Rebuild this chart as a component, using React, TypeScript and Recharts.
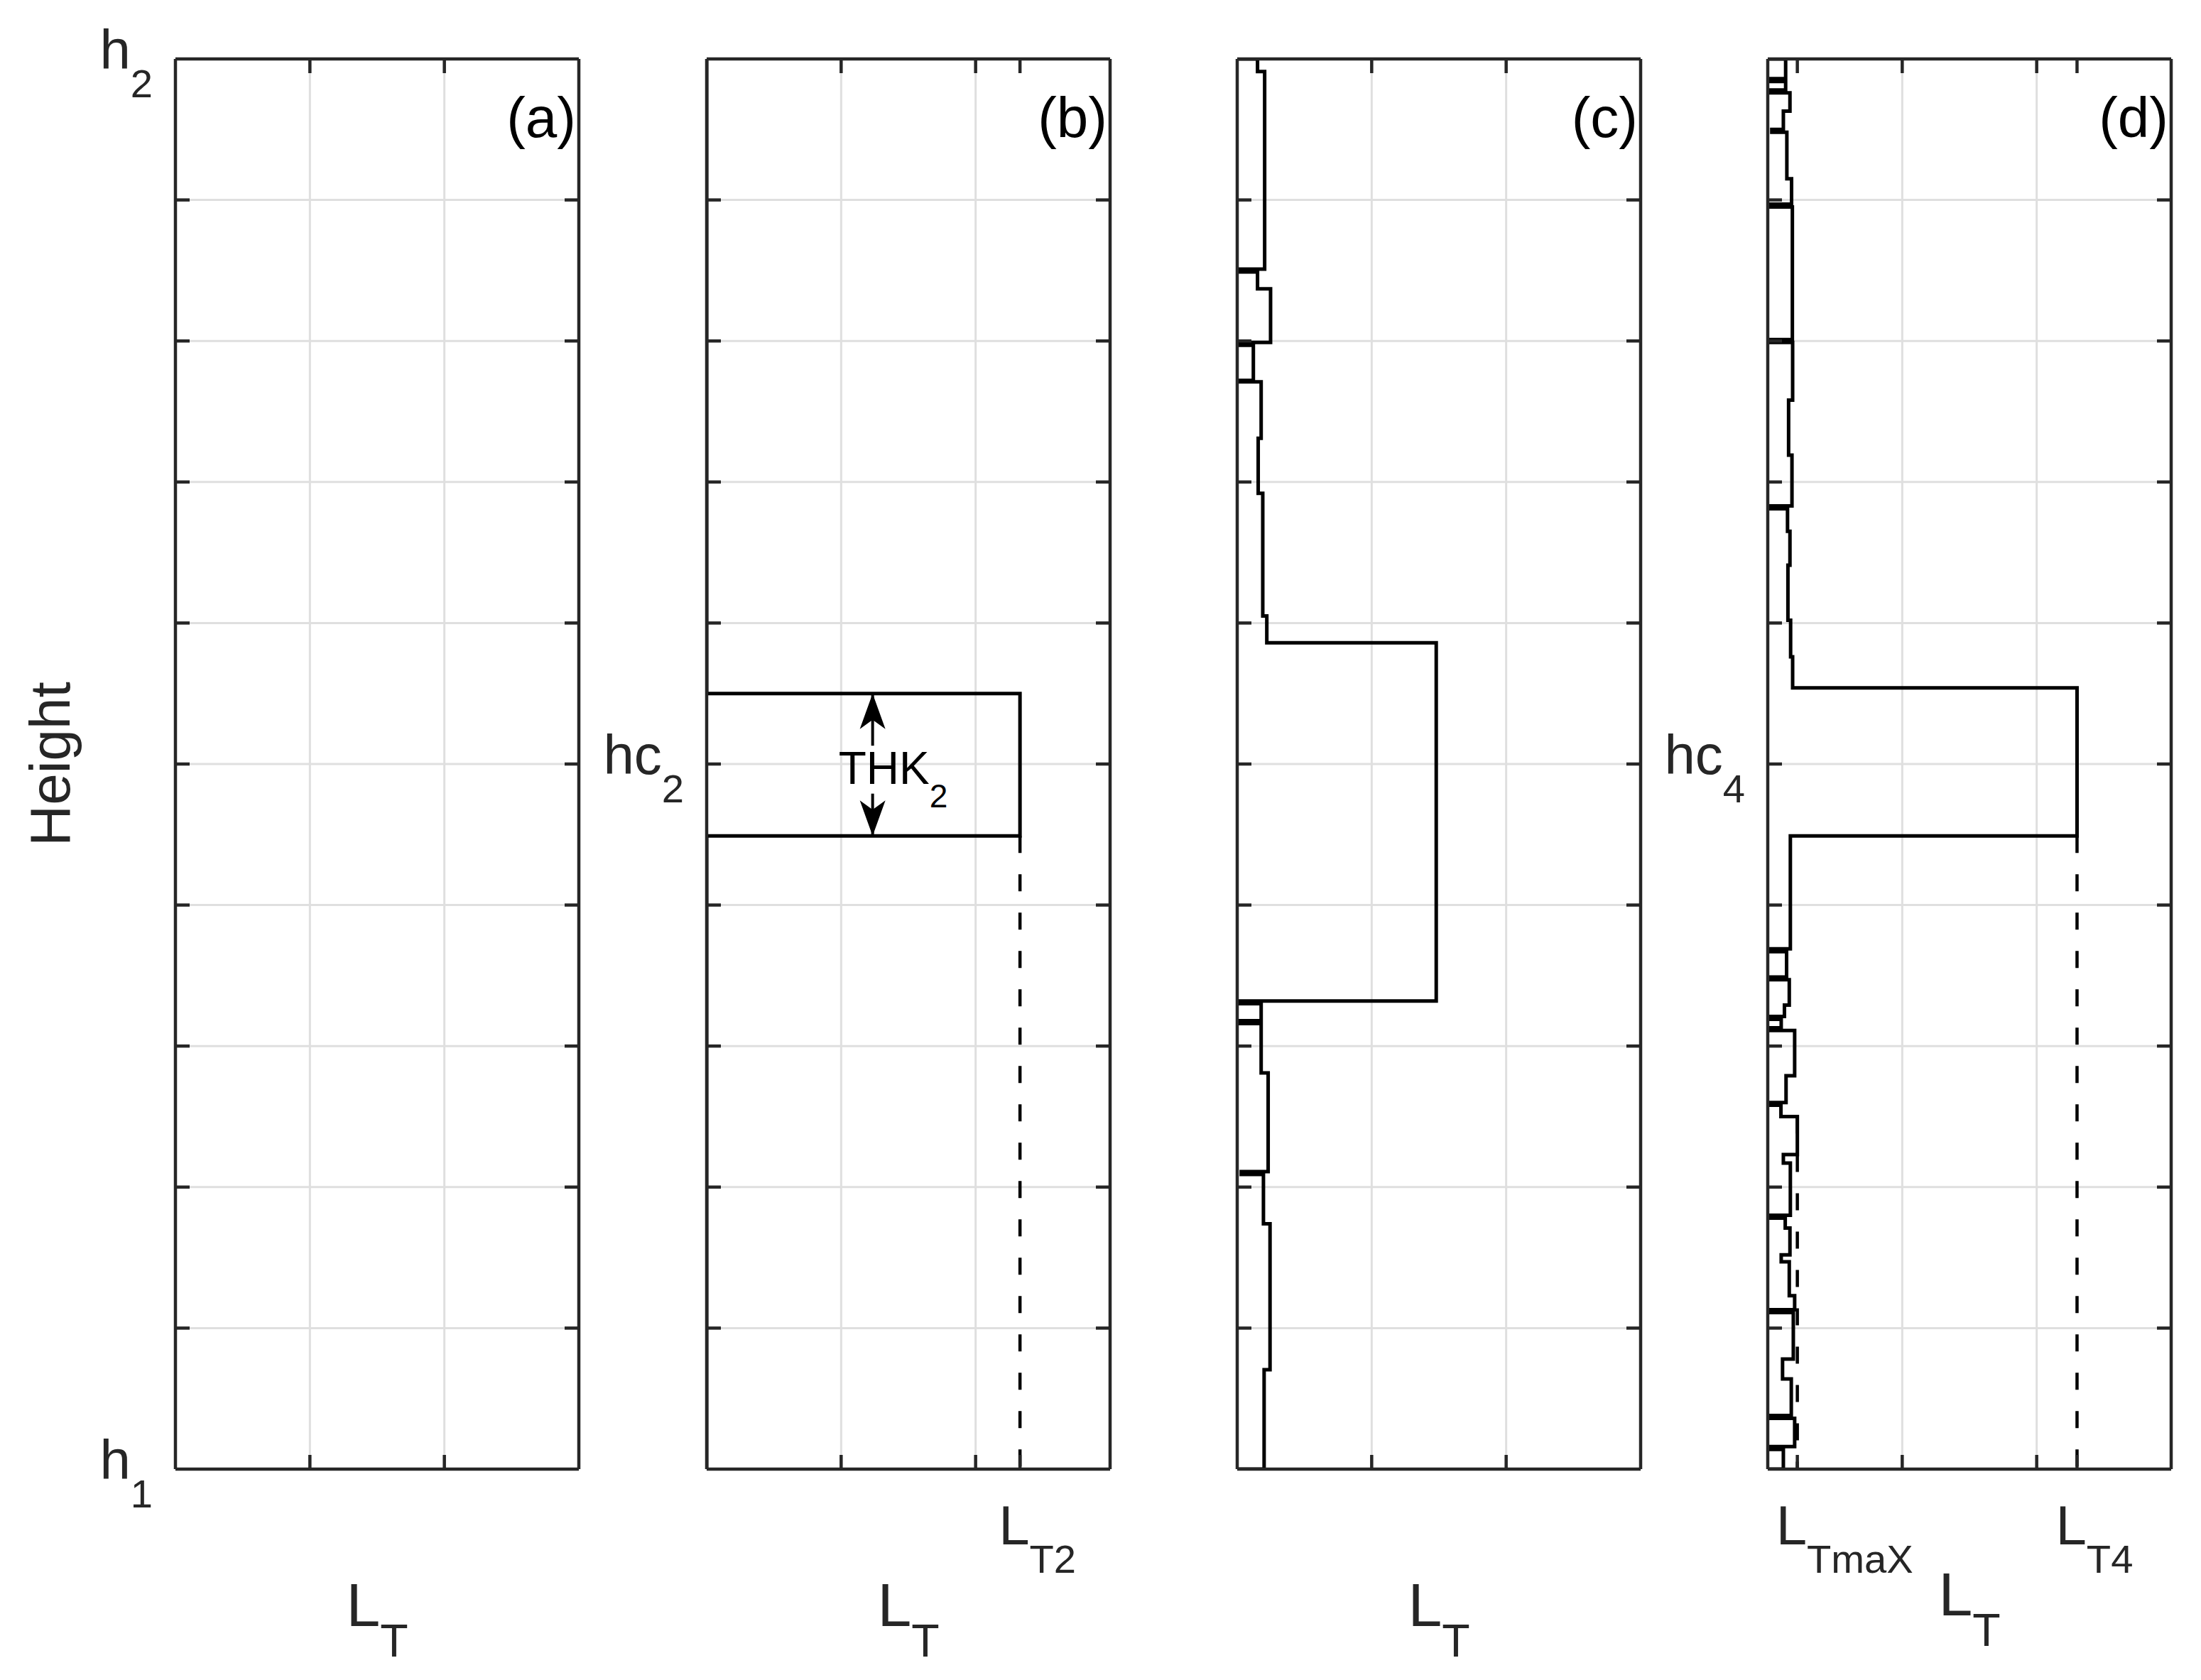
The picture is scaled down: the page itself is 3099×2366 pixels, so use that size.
import React from 'react';
import { ComposedChart, Line, Scatter, XAxis, YAxis, CartesianGrid } from 'recharts';

const FONT = '"Liberation Sans", Arial, Helvetica, sans-serif';
const INK = '#262626';
const GRID = '#dfdfdf';

const PAGE_W = 3099;
const PAGE_H = 2366;
const PLOT_TOP = 83;
const PLOT_H = 1986;
const PLOT_W = 568;
const TICK_LEN = 20;

// grid lines / tick marks
const yGridValues = [1, 2, 3, 4, 5, 6, 7, 8, 9];
const xGridValues = [1, 2];

// tick labels (value on axis, main text, subscript)
const aYLabels = [{ v: 0, main: 'h', sub: '1' }, { v: 10, main: 'h', sub: '2' }];
const bYLabels = [{ v: 5, main: 'hc', sub: '2' }];
const dYLabels = [{ v: 5, main: 'hc', sub: '4' }];
const bXLabels = [{ v: 2.33, main: 'L', sub: 'T2' }];
const dXLabels = [{ v: 0.22, main: 'L', sub: 'TmaX' }, { v: 2.3, main: 'L', sub: 'T4' }];

// (b) single layer: layer boundaries (top -> bottom) and L_T inside each interval
const bBounds = [10, 5.5, 4.49, 0];
const bValues = [0, 2.33, 0];

// (c)
const cBounds = [10, 9.91, 8.51, 8.49, 8.37, 7.99, 7.97, 7.72, 7.71, 7.31, 6.92, 6.05, 5.86, 3.32, 3.3, 3.18, 3.16, 2.81, 2.11, 2.09, 1.74, 0.705, 0];
const cValues = [0.151, 0.204, 0, 0.151, 0.248, 0, 0.12, 0, 0.178, 0.156, 0.19, 0.22, 1.48, 0, 0.178, 0, 0.178, 0.23, 0.03, 0.195, 0.244, 0.2];

// (d)
const dBounds = [10, 9.86, 9.84, 9.78, 9.76, 9.63, 9.5, 9.48, 9.15, 8.97, 8.95, 8.01, 7.99, 7.58, 7.19, 6.83, 6.81, 6.65, 6.41, 6.02, 5.76, 5.54, 4.49, 3.69, 3.67, 3.49, 3.47, 3.29, 3.21, 3.19, 3.13, 3.11, 2.79, 2.6, 2.58, 2.5, 2.23, 2.17, 1.8, 1.78, 1.71, 1.52, 1.47, 1.23, 1.13, 1.11, 0.78, 0.64, 0.38, 0.36, 0.16, 0.14, 0];
const dValues = [0.133, 0, 0.133, 0.02, 0.165, 0.116, 0.03, 0.142, 0.177, 0, 0.183, 0, 0.185, 0.155, 0.18, 0, 0.147, 0.165, 0.15, 0.17, 0.185, 2.3, 0.168, 0, 0.14, 0, 0.16, 0.124, 0, 0.1, 0.02, 0.2, 0.136, 0, 0.098, 0.22, 0.116, 0.168, 0, 0.13, 0.165, 0.1, 0.16, 0.2, 0, 0.19, 0.11, 0.175, 0, 0.2, 0, 0.116];

// dashed guides: [x, fromHeight, toHeight]
const bGuides = [[2.33, 4.49, 0]];
const dGuides = [[0.22, 2.5, 0], [2.3, 4.49, 0]];

// THK_2 double arrow in (b)
const thkX = 1.234;
const thkHeads = [{ x: thkX, y: 5.5, dir: 'up' }, { x: thkX, y: 4.49, dir: 'down' }];
const thkShafts = [[5.5, 5.13], [4.79, 4.49]];
const thkText = [{ x: thkX, y: 5.0 }];

const toSteps = (bounds: number[], values: number[]) => {
  const pts = [{ x: 0, y: bounds[0] }];
  values.forEach((v, i) => {
    pts.push({ x: v, y: bounds[i] }, { x: v, y: bounds[i + 1] });
  });
  pts.push({ x: 0, y: bounds[bounds.length - 1] });
  return pts;
};

const toSeg = (g: number[]) => [{ x: g[0], y: g[1] }, { x: g[0], y: g[2] }];

type Lab = { v: number; main: string; sub: string };

const SubText = ({ x, y, size, main, sub, anchor, ratio = 0.72, drop = 0.51, fill = INK }: any) => (
  <text x={x} y={y} textAnchor={anchor} fontFamily={FONT} fontSize={size} fill={fill}>
    {main}
    <tspan dy={size * drop} fontSize={size * ratio}>{sub}</tspan>
  </text>
);

const ArrowHead = (props: any) => {
  const { cx, cy, payload } = props;
  const back = payload.dir === 'up' ? 1 : -1;
  return (
    <path
      d={`M${cx},${cy} L${cx - 18},${cy + back * 50} L${cx},${cy + back * 37} L${cx + 18},${cy + back * 50} Z`}
      fill="#000"
    />
  );
};

const ThkLabel = (props: any) => (
  <SubText x={props.cx - 48} y={props.cy + 28} size={64} main="THK" sub="2" anchor="start" fill="#000" drop={0.52} />
);

interface PanelProps {
  plotLeft: number;
  marginLeft: number;
  letter: string;
  profile?: { x: number; y: number }[];
  guides?: number[][];
  yLabels?: Lab[];
  xLabels?: Lab[];
  xTitleDrop: number;
  yTitle?: string;
  children?: React.ReactNode;
}

const Panel: React.FC<PanelProps> = ({ plotLeft, marginLeft, letter, profile, guides = [], yLabels = [], xLabels = [], xTitleDrop, yTitle, children }) => {
  const marginRight = 20;
  const width = marginLeft + PLOT_W + marginRight;
  const plotBottom = PLOT_TOP + PLOT_H;
  const yTicks = Array.from(new Set([...yGridValues, ...yLabels.map(l => l.v)])).sort((a, b) => a - b);
  const xTicks = [...xGridValues, ...xLabels.map(l => l.v)].sort((a, b) => a - b);

  const leftTick = ({ x, y, payload }: any) => {
    const v = payload.value;
    const lab = yLabels.find(l => l.v === v);
    return (
      <g>
        {v > 0 && v < 10 && <line x1={x} y1={y} x2={x + TICK_LEN} y2={y} stroke={INK} strokeWidth={4.5} />}
        {lab && <SubText x={x - 32} y={y + 14} size={78} main={lab.main} sub={lab.sub} anchor="end" />}
      </g>
    );
  };
  const rightTick = ({ x, y, payload }: any) =>
    payload.value > 0 && payload.value < 10 ? <line x1={x} y1={y} x2={x - TICK_LEN} y2={y} stroke={INK} strokeWidth={4.5} /> : <g />;
  const topTick = ({ x, y, payload }: any) =>
    payload.value > 0 && payload.value < 3 ? <line x1={x} y1={y} x2={x} y2={y + TICK_LEN} stroke={INK} strokeWidth={4.5} /> : <g />;
  const bottomTick = ({ x, y, payload }: any) => {
    const v = payload.value;
    const lab = xLabels.find(l => l.v === v);
    return (
      <g>
        {v > 0 && v < 3 && <line x1={x} y1={y} x2={x} y2={y - TICK_LEN} stroke={INK} strokeWidth={4.5} />}
        {lab && <SubText x={x - 30} y={y + 106} size={78} main={lab.main} sub={lab.sub} anchor="start" />}
      </g>
    );
  };

  const axisLine = { stroke: INK, strokeWidth: 4.5 };
  const common = { tickSize: 0, tickMargin: 0, tickLine: false, axisLine, interval: 0 as const, allowDataOverflow: true };

  return (
    <div style={{ position: 'absolute', left: plotLeft - marginLeft, top: 0 }}>
      <ComposedChart
        width={width}
        height={PAGE_H}
        margin={{ top: PLOT_TOP - 1, right: marginRight - 1, bottom: PAGE_H - plotBottom - 1, left: marginLeft - 1 }}
      >
        <CartesianGrid horizontalValues={yGridValues} verticalValues={xGridValues} stroke={GRID} strokeWidth={3} />
        <XAxis
          {...common}
          xAxisId={0}
          dataKey="x"
          type="number"
          domain={[0, 3]}
          ticks={xTicks}
          height={1}
          tick={bottomTick}
          label={{
            content: () => (
              <SubText x={marginLeft + PLOT_W / 2} y={plotBottom + xTitleDrop} size={86} main="L" sub="T" anchor="middle" ratio={0.75} drop={0.5} />
            ),
          }}
        />
        <XAxis
          {...common}
          xAxisId="top"
          orientation="top"
          dataKey="x"
          type="number"
          domain={[0, 3]}
          ticks={xTicks}
          height={1}
          tick={topTick}
          label={{
            content: () => (
              <text x={marginLeft + PLOT_W - 4} y={PLOT_TOP + 110} textAnchor="end" fontFamily={FONT} fontSize={80} fill="#000">
                {letter}
              </text>
            ),
          }}
        />
        <YAxis
          {...common}
          yAxisId={0}
          dataKey="y"
          type="number"
          domain={[0, 10]}
          ticks={yTicks}
          width={1}
          tick={leftTick}
          label={
            yTitle
              ? {
                  content: () => (
                    <text transform={`translate(98, ${PLOT_TOP + PLOT_H / 2}) rotate(-90)`} textAnchor="middle" fontFamily={FONT} fontSize={80} fill={INK}>
                      {yTitle}
                    </text>
                  ),
                }
              : undefined
          }
        />
        <YAxis {...common} yAxisId="right" orientation="right" dataKey="y" type="number" domain={[0, 10]} ticks={yGridValues} width={1} tick={rightTick} />
        {guides.map((g, i) => (
          <Line key={`g${i}`} data={toSeg(g)} dataKey="y" stroke="#000" strokeWidth={4.5} strokeDasharray="24 30" dot={false} activeDot={false} isAnimationActive={false} />
        ))}
        {profile && (
          <Line data={profile} dataKey="y" type="linear" stroke="#000" strokeWidth={5} strokeLinejoin="miter" dot={false} activeDot={false} isAnimationActive={false} />
        )}
        {children}
      </ComposedChart>
    </div>
  );
};

export default function App() {
  return (
    <div style={{ position: 'absolute', left: 0, top: 0, width: PAGE_W, height: PAGE_H, background: '#fff', overflow: 'hidden' }}>
      <Panel plotLeft={247} marginLeft={247} letter="(a)" yLabels={aYLabels} xTitleDrop={221} yTitle="Height" />
      <Panel plotLeft={995} marginLeft={170} letter="(b)" profile={toSteps(bBounds, bValues)} guides={bGuides} yLabels={bYLabels} xLabels={bXLabels} xTitleDrop={221}>
        {thkShafts.map((s, i) => (
          <Line key={`s${i}`} data={[{ x: thkX, y: s[0] }, { x: thkX, y: s[1] }]} dataKey="y" stroke="#000" strokeWidth={4} dot={false} activeDot={false} isAnimationActive={false} />
        ))}
        <Scatter data={thkHeads} shape={ArrowHead} isAnimationActive={false} />
        <Scatter data={thkText} shape={ThkLabel} isAnimationActive={false} />
      </Panel>
      <Panel plotLeft={1742} marginLeft={170} letter="(c)" profile={toSteps(cBounds, cValues)} xTitleDrop={221} />
      <Panel plotLeft={2489} marginLeft={170} letter="(d)" profile={toSteps(dBounds, dValues)} guides={dGuides} yLabels={dYLabels} xLabels={dXLabels} xTitleDrop={206} />
    </div>
  );
}
